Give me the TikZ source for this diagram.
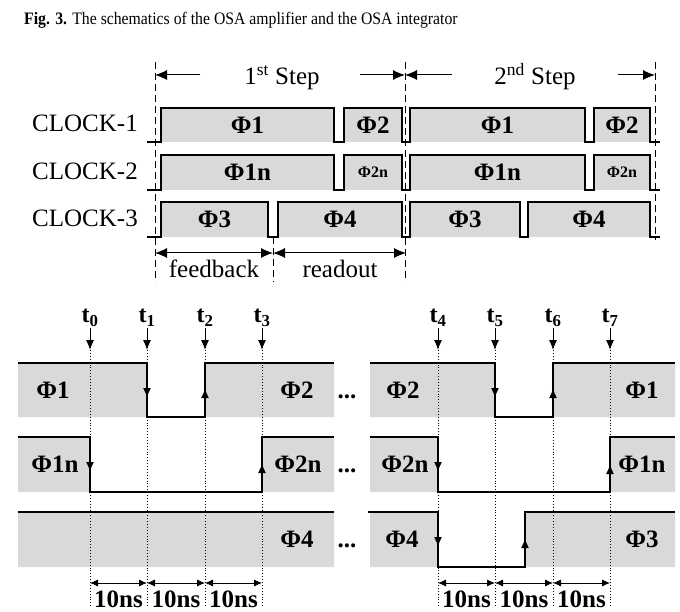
\documentclass[tikz,border=0pt]{standalone}
\usepackage{fontspec}
\setmainfont{Liberation Serif}
\newfontfamily\capfont{Liberation Serif}[FakeStretch=0.9]
\usetikzlibrary{arrows.meta}

\begin{document}
\begin{tikzpicture}[x=1pt,y=-1pt,font=\fontsize{25}{28}\selectfont,
    grayfill/.style={fill=gray!30},
    wave/.style={line width=1.7pt},
    lbl/.style={inner sep=0pt,font=\fontsize{25}{28}\selectfont\bfseries},
    lbls/.style={inner sep=0pt,font=\fontsize{16}{18}\selectfont\bfseries},
    txt/.style={anchor=base,inner sep=0pt},
    tlbl/.style={anchor=base,inner sep=0pt,font=\fontsize{24}{26}\selectfont\bfseries},
    stepline/.style={line width=0.9pt,dash pattern=on 7pt off 4pt},
    guide/.style={dotted,line width=0.9pt},
    stepar/.style={-{Latex[length=12pt,width=10pt]},line width=1pt},
    span/.style={{Latex[length=12pt,width=10pt]}-{Latex[length=12pt,width=10pt]},line width=1pt},
    tick/.style={-{Latex[length=10pt,width=8pt]},line width=1pt},
    flip/.style={-{Latex[length=10pt,width=8pt]},line width=1.7pt},
    gapar/.style={{Latex[length=8pt,width=7pt]}-{Latex[length=8pt,width=7pt]},line width=0.8pt}]
    \useasboundingbox (0,0) rectangle (680,612);
    \node[anchor=base west,inner sep=0pt,font=\capfont\fontsize{17.5}{20}\selectfont] (cap) at (24,25)
      {\textbf{Fig. 3.} The schematics of the OSA amplifier and the OSA integrator};
    % clock rows
    \foreach \r/\b/\h/\a/\c/\d/\e/\pa/\pb/\st in {
        1/142/108/334/344/585/594/Φ1/Φ2/lbl,
        2/190/155/334/344/585/594/Φ1n/Φ2n/lbls,
        3/237/202/268/278/520/528/Φ3/Φ4/lbl}{
      \fill[grayfill] (161,\h) rectangle (\a,\b) (\c,\h) rectangle (402,\b)
        (410,\h) rectangle (\d,\b) (\e,\h) rectangle (650,\b);
      \draw[wave] (147,\b) -- (161,\b) -- (161,\h) -- (\a,\h) -- (\a,\b) -- (\c,\b) -- (\c,\h)
        -- (402,\h) -- (402,\b) -- (410,\b) -- (410,\h) -- (\d,\h) -- (\d,\b) -- (\e,\b)
        -- (\e,\h) -- (650,\h) -- (650,\b) -- (660,\b);
      \node[anchor=base east,inner sep=0pt] (ck\r) at (138,\b-10) {CLOCK-\r};
      \node[lbl] (p\r-1) at ({(161+\a)/2},{(\b+\h)/2}) {\pa};
      \node[\st] (p\r-2) at ({(\c+402)/2},{(\b+\h)/2}) {\pb};
      \node[lbl] (p\r-3) at ({(410+\d)/2},{(\b+\h)/2}) {\pa};
      \node[\st] (p\r-4) at ({(\e+650)/2},{(\b+\h)/2}) {\pb};
    }
    \foreach \n/\x/\t/\e in {0/155/62/282,1/405/62/282,2/655/62/240,3/273/237/282}{
      \coordinate (b\n) at (\x,\t);
      \draw[stepline] (b\n) -- (\x,\e);
    }
    \node[txt] (step1) at (282,85) {1\textsuperscript{st} Step};
    \node[txt] (step2) at (535,85) {2\textsuperscript{nd} Step};
    \draw[stepar] (200,75) -- (155,75);
    \draw[stepar] (360,75) -- (405,75);
    \draw[stepar] (452,75) -- (405,75);
    \draw[stepar] (618,75) -- (655,75);
    \draw[span] (155,253) -- (273,253);
    \draw[span] (273,253) -- (406,253);
    \node[txt] (fb) at (214,278) {feedback};
    \node[txt] (ro) at (340,278) {readout};
    % transitions
    \fill[grayfill] (18,363) rectangle (147,417) (205,363) rectangle (334,417)
      (370,363) rectangle (495,417) (553,363) rectangle (675,417);
    \fill[grayfill] (18,437) rectangle (90,492) (262,437) rectangle (334,492)
      (370,437) rectangle (438,492) (610,437) rectangle (675,492);
    \fill[grayfill] (18,512) rectangle (334,567) (370,512) rectangle (438,567)
      (525,512) rectangle (675,567);
    \foreach \x/\n in {90/0,147/1,205/2,262/3,438/4,495/5,553/6,610/7}{
      \node[tlbl] (t\n) at (\x,323) {t\textsubscript{\n}};
      \coordinate (m\n) at (\x,350);
      \draw[tick] (\x,328) -- (m\n);
      \draw[guide] (m\n) -- (\x,607);
    }
    \draw[wave] (18,363) -- (147,363) -- (147,417) -- (205,417) -- (205,363) -- (334,363);
    \draw[wave] (370,363) -- (495,363) -- (495,417) -- (553,417) -- (553,363) -- (675,363);
    \draw[wave] (18,437) -- (90,437) -- (90,492) -- (262,492) -- (262,437) -- (334,437);
    \draw[wave] (370,437) -- (438,437) -- (438,492) -- (610,492) -- (610,437) -- (675,437);
    \draw[wave] (18,512) -- (334,512);
    \draw[wave] (368,512) -- (438,512) -- (438,567) -- (525,567) -- (525,512) -- (675,512);
    \foreach \x/\a/\b in {147/363/398,205/417/388,495/363/398,553/417/388,
        90/437/472,262/492/463,438/437/472,610/492/464,438/512/547,525/567/538}
      \draw[flip] (\x,\a) -- (\x,\b);
    \foreach \n/\x/\y/\t in {a1/53/390/Φ1,a2/297/390/Φ2,a3/403/390/Φ2,a4/642/390/Φ1,
        b1/55/464.5/Φ1n,b2/298/464.5/Φ2n,b3/405/464.5/Φ2n,b4/642/464.5/Φ1n,
        c2/297/539.5/Φ4,c3/402/539.5/Φ4,c4/642/539.5/Φ3}
      \node[lbl] (\n) at (\x,\y) {\t};
    \foreach \y [count=\i] in {398,472.5,547.5}
      \node[lbl,anchor=base] (dots\i) at (347,\y) {...};
    \foreach \a/\b in {90/147,147/205,205/262,438/495,495/553,553/610}{
      \draw[gapar] (\a,583) -- (\b,583);
      \node[lbl] (ns\a) at ({(\a+\b)/2},599) {10ns};
    }
\end{tikzpicture}
\end{document}
